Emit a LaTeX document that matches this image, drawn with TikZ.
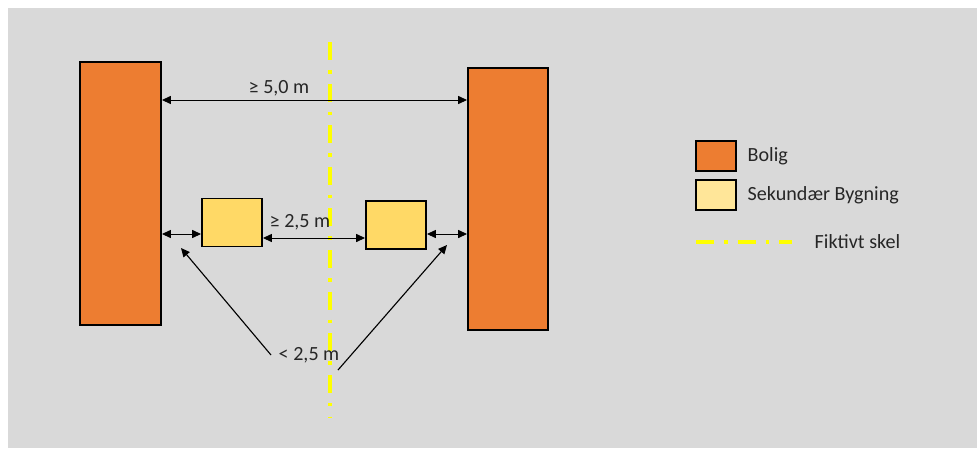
\documentclass[tikz,border=0pt]{standalone}
\usepackage{fontspec}
\setmainfont{Carlito}
\usetikzlibrary{arrows.meta}
\definecolor{bgGray}{HTML}{D9D9D9}
\definecolor{boligOrange}{HTML}{ED7D31}
\definecolor{sekYellow}{HTML}{FFD966}
\definecolor{sekLegend}{HTML}{FFE699}
\definecolor{skelYellow}{HTML}{FFFF00}
\definecolor{txtGray}{HTML}{262626}

\begin{document}
\begin{tikzpicture}[x=0.025cm,y=-0.025cm,
    house/.style={rectangle,draw=black,line width=1.4pt,inner sep=0pt},
    bolig/.style={house,fill=boligOrange},
    sek/.style={house,fill=sekYellow},
    lbl/.style={text=txtGray,font=\fontsize{14.3}{17}\selectfont,inner sep=1pt},
    dim/.style={{Triangle[length=0.22cm,width=0.2cm]}-{Triangle[length=0.22cm,width=0.2cm]},line width=0.6pt},
    ptr/.style={-{Triangle[length=0.22cm,width=0.2cm]},line width=0.8pt},
    skel/.style={skelYellow,line width=2.8pt,dash pattern=on 0.45cm off 0.25cm on 0.09cm off 0.25cm}]
    \useasboundingbox (0,0) rectangle (977,448);
    \fill[bgGray] (8,8) rectangle (977,448);
                % fiktivt skel
                \coordinate(skTop) at (330,42);
                \coordinate(skBot) at (330,418);
                \draw[skel](skTop)--(skBot);
                % bygninger
                \node[bolig,minimum width=2.025cm,minimum height=6.575cm](bolL) at (120.5,193.5) {};
                \node[bolig,minimum width=2cm,minimum height=6.55cm](bolR) at (508,199) {};
                \node[sek,minimum width=1.5cm,minimum height=1.2cm](sekL) at (232,222.5) {};
                \node[sek,minimum width=1.5cm,minimum height=1.2cm](sekR) at (396,225) {};
                % afstande
                \coordinate(t) at (0,100);
                \coordinate(m) at (0,234);
                \node[lbl](lblTop) at (279,88) {≥ 5,0 m};
                \node[lbl](lblMid) at (300,222) {≥ 2,5 m};
                \node[lbl](lblLow) at (309,355) {< 2,5 m};
                \draw[dim](bolL.east |- t)--(bolR.west |- t);
                \draw[dim](bolL.east |- m)--(sekL.west |- m);
                \draw[dim](sekL.east |- 0,238)--(sekR.west |- 0,238);
                \draw[dim](sekR.east |- m)--(bolR.west |- m);
                \coordinate(sL) at (271,355);
                \coordinate(sR) at (338,370);
                \coordinate(aL) at (181,248);
                \coordinate(aR) at (447,245);
                \draw[ptr](sL)--(aL);
                \draw[ptr](sR)--(aR);
                % signaturforklaring
                \node[bolig,minimum width=1cm,minimum height=0.75cm](legBolig) at (716,156) {};
                \node[house,fill=sekLegend,minimum width=1cm,minimum height=0.75cm](legSek) at (716,195) {};
                \node[lbl,anchor=west](txtBolig) at (746,156) {Bolig};
                \node[lbl,anchor=west](txtSek) at (746,195) {Sekundær Bygning};
                \coordinate(legA) at (696,242);
                \coordinate(legB) at (792,242);
                \draw[skel](legA)--(legB);
                \node[lbl,anchor=west](txtSkel) at (813,242) {Fiktivt skel};
\end{tikzpicture}
\end{document}
